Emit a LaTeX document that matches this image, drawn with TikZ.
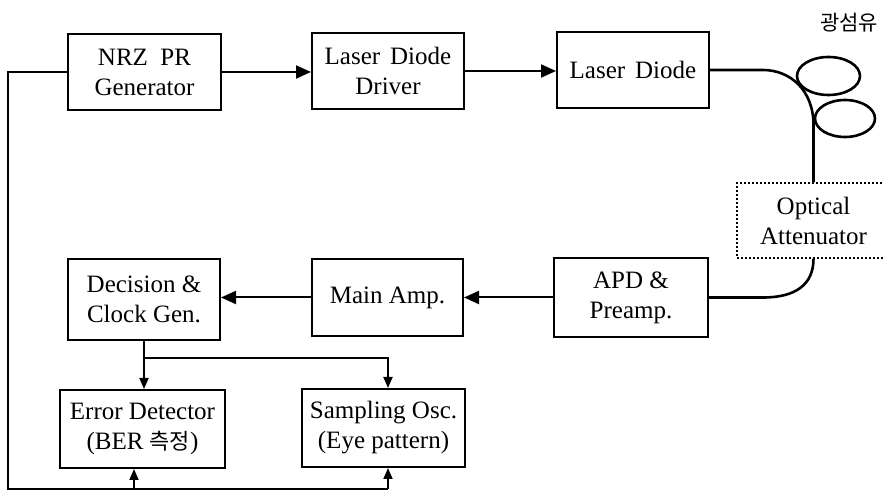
\documentclass[tikz,border=0pt]{standalone}
\usepackage{fontspec}
\setmainfont{Liberation Serif}
\newfontfamily\krfont{Noto Sans CJK KR}
\usetikzlibrary{arrows.meta}
\begin{document}
\begin{tikzpicture}[x=0.5pt,y=-0.5pt,
  box/.style={draw, line width=1pt, inner sep=0pt, align=center,
    font=\fontsize{12.5}{15}\selectfont},
  attbox/.style={box, densely dotted, line width=0.8pt},
  arr/.style={-{Triangle[length=7.5pt,width=6.5pt]}, line width=1pt},
  sarr/.style={-{Triangle[length=5.5pt,width=4.5pt]}, line width=0.9pt},
  ln/.style={line width=0.9pt},
  fiber/.style={line width=1.3pt},
  lbl/.style={font=\krfont\fontsize{10.5}{12}\selectfont}]
\clip (0,0) rectangle (884,491);

\node[box, minimum width=76.5pt, minimum height=38pt] (gen) at (144.5,72) {NRZ\hspace{0.5em}PR\\Generator};
\node[box, minimum width=76pt, minimum height=38pt] (drv) at (388,71) {Laser\hspace{0.4em}Diode\\Driver};
\node[box, minimum width=76pt, minimum height=38pt] (ld) at (633,70) {Laser\hspace{0.4em}Diode};
\node[attbox, minimum width=76.5pt, minimum height=37.5pt] (att) at (813.5,220.5) {Optical\\Attenuator};
\node[box, minimum width=77pt, minimum height=39.5pt] (apd) at (631,297.5) {APD \&\\Preamp.};
\node[box, minimum width=75.5pt, minimum height=38.5pt] (amp) at (387.5,297.5) {Main Amp.};
\node[box, minimum width=76pt, minimum height=40.5pt] (dec) at (144,299.5) {Decision \&\\Clock Gen.};
\node[box, minimum width=82.5pt, minimum height=39pt] (err) at (142.5,429) {Error Detector\\(BER {\krfont\fontsize{11}{15}\selectfont 측정})};
\node[box, minimum width=81.5pt, minimum height=39pt] (osc) at (383.5,428) {Sampling Osc.\\(Eye pattern)};
\node[lbl] (fib) at (849,23) {광섬유};

% fibre
\coordinate (f1) at (763,70);
\coordinate (f2) at (813.5,125);
\draw[fiber] (ld.east) -- (f1) .. controls (790,70) and (813.5,90) .. (f2) -- (att.north);
\draw[fiber] (828.5,76) ellipse [x radius=15.75pt, y radius=9.5pt];
\draw[fiber] (845,118.5) ellipse [x radius=15pt, y radius=9.25pt];
\coordinate (f3) at (763,297.5);
\draw[fiber] (att.south) .. controls (813.5,285) and (795,297.5) .. (f3) -- (apd.east);

% signal path
\draw[arr] (gen.east) -- (gen.east -| drv.west);
\draw[arr] (drv.east) -- (drv.east -| ld.west);
\draw[arr] (apd.west) -- (apd.west -| amp.east);
\draw[arr] (amp.west) -- (amp.west -| dec.east);

% branch to detectors
\coordinate (br) at (144,358);
\coordinate (oscin) at (388,358);
\draw[ln] (dec.south) -- (br);
\draw[sarr] (br) -- (br |- err.north);
\draw[sarr] (br) -- (oscin) -- (oscin |- osc.north);

% reference loop
\coordinate (lb) at (8,489);
\coordinate (ein) at (134,489);
\coordinate (oin) at (388,489);
\draw[ln] (gen.west) -| (lb) -- (oin);
\draw[sarr] (ein) -- (ein |- err.south);
\draw[sarr] (oin) -- (oin |- osc.south);
\end{tikzpicture}
\end{document}
